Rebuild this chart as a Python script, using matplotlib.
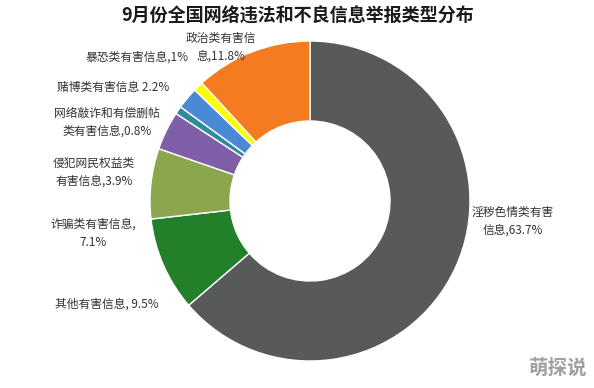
import matplotlib
matplotlib.use("Agg")
import matplotlib.pyplot as plt

plt.rcParams['font.family'] = ['Noto Sans CJK SC', 'DejaVu Sans']

# Data (clockwise from top)
categories = ['淫秽色情类有害信息', '其他有害信息', '诈骗类有害信息', '侵犯网民权益类有害信息',
              '网络敲诈和有偿删帖类有害信息', '赌博类有害信息', '暴恐类有害信息', '政治类有害信息']
shares = [63.7, 9.5, 7.1, 3.9, 0.8, 2.2, 1.0, 11.8]
label_texts = ['淫秽色情类有害\n信息,63.7%', '其他有害信息, 9.5%', '诈骗类有害信息,\n7.1%',
               '侵犯网民权益类\n有害信息,3.9%', '网络敲诈和有偿删帖\n类有害信息,0.8%',
               '赌博类有害信息 2.2%', '暴恐类有害信息,1%', '政治类有害信\n息,11.8%']
title = '9月份全国网络违法和不良信息举报类型分布'

colors = ['#58595b', '#22802a', '#8ca64e', '#7f5fa8', '#2f8a9c', '#4a89d6', '#ffff00', '#f47b20']
# label centres in pixels (x, y from top)
label_pos = [(513, 221), (107, 304), (93, 233), (94, 172), (107, 122),
             (113, 87), (137, 57), (221, 47)]

W, H = 594, 388
fig = plt.figure(figsize=(W / 100, H / 100), dpi=100)
fig.patch.set_facecolor('white')

cx, cy, r = 310, 201, 160
ax = fig.add_axes([(cx - r) / W, (H - cy - r) / H, 2 * r / W, 2 * r / H])
ax.pie(shares, colors=colors, startangle=90, counterclock=False, radius=1,
       wedgeprops=dict(width=0.5, edgecolor='white', linewidth=1))
ax.set_xlim(-1, 1)
ax.set_ylim(-1, 1)
ax.set_aspect('equal')
ax.axis('off')

fig.text(298 / W, 1 - 16 / H, title, ha='center', va='center',
         fontsize=13, fontweight='bold', color='#1a1a1a')

for txt, (px, py) in zip(label_texts, label_pos):
    fig.text(px / W, 1 - py / H, txt, ha='center', va='center',
             fontsize=8.5, color='#333333', linespacing=1.5)

fig.text(558 / W, 1 - 368 / H, '萌探说', ha='center', va='center',
         fontsize=14, fontweight='bold', color='#a0a0a0')

fig.savefig('out.png', dpi=100)
